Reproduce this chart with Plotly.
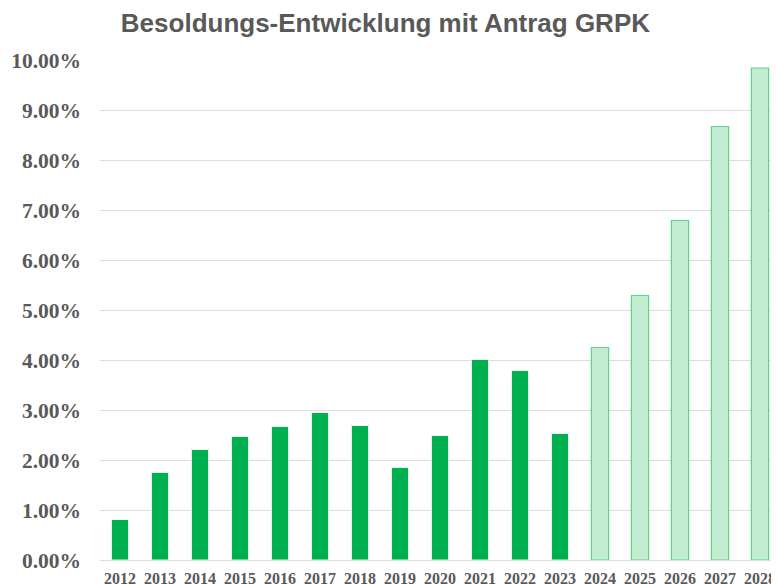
import plotly.graph_objects as go

# Data
years_actual = ["2012", "2013", "2014", "2015", "2016", "2017", "2018",
                "2019", "2020", "2021", "2022", "2023"]
values_actual = [0.81, 1.75, 2.21, 2.47, 2.67, 2.95, 2.69,
                 1.85, 2.49, 4.01, 3.79, 2.53]
years_proj = ["2024", "2025", "2026", "2027", "2028"]
values_proj = [4.25, 5.29, 6.79, 8.67, 9.84]
y_ticks = [0, 1, 2, 3, 4, 5, 6, 7, 8, 9, 10]

title_text = "Besoldungs-Entwicklung mit Antrag GRPK"

fig = go.Figure()
fig.add_trace(go.Bar(
    x=years_actual, y=[v / 100 for v in values_actual],
    marker=dict(color="#00B050", line=dict(color="#E8F8EE", width=1)),
    showlegend=False,
))
fig.add_trace(go.Bar(
    x=years_proj, y=[v / 100 for v in values_proj],
    marker=dict(color="#C2ECCF", line=dict(color="#5FD38C", width=1.2)),
    showlegend=False,
))

grey = "#595959"
fig.update_layout(
    width=779, height=584,
    margin=dict(l=92, r=7, t=51, b=32),
    paper_bgcolor="white", plot_bgcolor="white",
    barmode="overlay", bargap=0.57,
    title=dict(text="<b>" + title_text + "</b>", x=0.4845, xanchor="center",
               y=0.975, yanchor="middle",
               font=dict(family="Liberation Sans, Arial", size=26, color=grey)),
    xaxis=dict(
        type="category",
        categoryorder="array", categoryarray=years_actual + years_proj,
        showgrid=False, showline=False, ticks="",
        tickfont=dict(family="Liberation Serif, Times New Roman", size=16,
                      color=grey, weight="bold"),
        ticklabelstandoff=7,
        automargin=False,
    ),
    yaxis=dict(
        range=[0, 0.1002],
        tickvals=[t / 100 for t in y_ticks],
        tickformat=".2%",
        showgrid=True, gridcolor="#DEDEDE", gridwidth=1,
        zeroline=True, zerolinecolor="#DEDEDE", zerolinewidth=1,
        showline=False, ticks="",
        tickfont=dict(family="Liberation Serif, Times New Roman", size=21.5,
                      color=grey, weight="bold"),
        ticklabelstandoff=18,
        automargin=False,
    ),
)

fig.write_html("out.html")
